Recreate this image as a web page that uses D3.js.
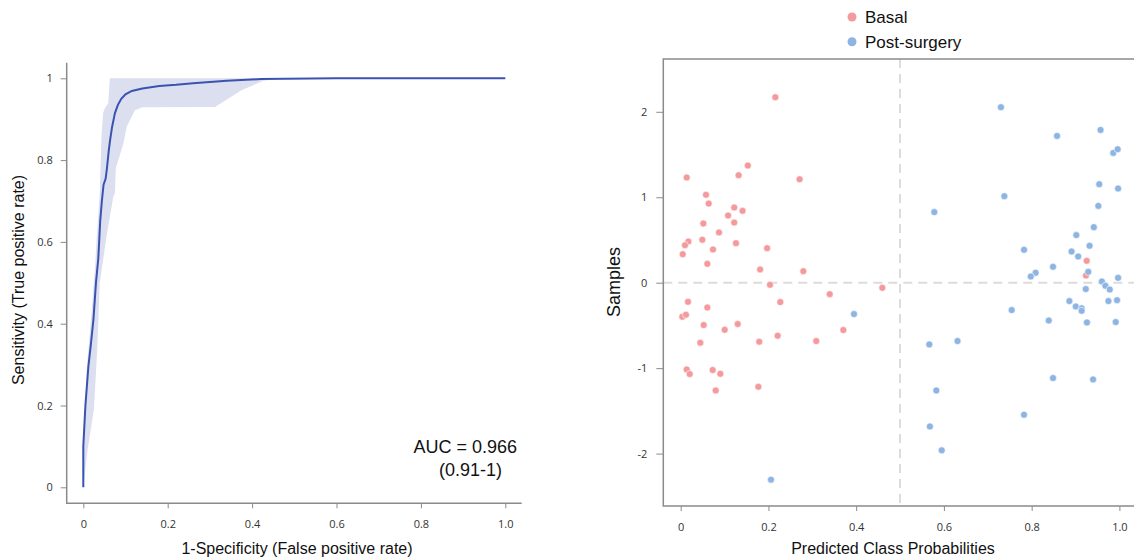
<!DOCTYPE html>
<html>
<head>
<meta charset="utf-8">
<script src="https://cdn.jsdelivr.net/npm/d3@7"></script>
<style>
  body { margin: 0; background: #fff; }
  svg { display: block; }
  .tick text { font-family: "Open Sans", sans-serif; font-size: 11px; fill: #333; }
  .title { font-family: "Liberation Sans", Arial, sans-serif; fill: #111; }
</style>
</head>
<body>
<svg id="chart" width="1134" height="560"></svg>
<script>
// ROC curve
var rocFpr = [0, 0, 0.005, 0.012, 0.018, 0.024, 0.03, 0.0356, 0.04, 0.044, 0.048, 0.053, 0.056, 0.06, 0.063, 0.068, 0.075, 0.082, 0.09, 0.1, 0.115, 0.14, 0.18, 0.22, 0.26, 0.3, 0.34, 0.42, 0.6, 1];
var rocTpr = [0, 0.1, 0.2, 0.295, 0.35, 0.41, 0.5, 0.56, 0.65, 0.7, 0.74, 0.755, 0.78, 0.82, 0.845, 0.88, 0.915, 0.935, 0.95, 0.961, 0.969, 0.975, 0.981, 0.984, 0.988, 0.991, 0.994, 0.998, 1, 1];

// confidence band: upper edge (left side) and lower edge (right side)
var bandHiFpr = [0, 0, 0.008, 0.02, 0.028, 0.032, 0.039, 0.043, 0.047, 0.051, 0.059, 0.063, 1];
var bandHiTpr = [0, 0.09, 0.286, 0.432, 0.54, 0.613, 0.72, 0.858, 0.915, 0.927, 0.939, 1, 1];
var bandLoFpr = [0, 0.01, 0.025, 0.033, 0.039, 0.055, 0.071, 0.075, 0.077, 0.083, 0.095, 0.103, 0.1225, 0.14, 0.312, 0.375, 0.427, 0.47, 1];
var bandLoTpr = [0, 0.09, 0.19, 0.336, 0.5, 0.613, 0.71, 0.72, 0.78, 0.8, 0.84, 0.882, 0.922, 0.929, 0.93, 0.971, 0.994, 1, 1];

var rocTicksX = [0, 0.2, 0.4, 0.6, 0.8, 1.0];
var rocTicksY = [0, 0.2, 0.4, 0.6, 0.8, 1];
var aucLines = ["AUC = 0.966", "(0.91-1)"];

// class probability scatter
var groups = ["Basal", "Post-surgery"];
var basalProb = [0.2157, 0.0137, 0.153, 0.132, 0.271, 0.0577, 0.0638, 0.122, 0.141, 0.108, 0.122, 0.0516, 0.0873, 0.0174, 0.0098, 0.0493, 0.126, 0.0046, 0.0736, 0.197, 0.0607, 0.181, 0.2795, 0.2036, 0.3397, 0.4596, 0.0166, 0.227, 0.0607,
  0.0037, 0.012, 0.0524, 0.1003, 0.130, 0.0447, 0.179, 0.221, 0.309, 0.3707, 0.0137, 0.0205, 0.0729, 0.0903, 0.0798, 0.177, 0.9255, 0.9238];
var basalSample = [2.171, 1.231, 1.371, 1.258, 1.211, 1.028, 0.926, 0.880, 0.841, 0.786, 0.704, 0.693, 0.588, 0.482, 0.439, 0.502, 0.463, 0.334, 0.389, 0.404, 0.221, 0.155, 0.135, -0.025, -0.134, -0.06, -0.224, -0.227, -0.29,
  -0.399, -0.375, -0.496, -0.551, -0.484, -0.703, -0.691, -0.621, -0.683, -0.554, -1.015, -1.069, -1.022, -1.066, -1.261, -1.218, 0.256, 0.084];
var postProb = [0.730, 0.8578, 0.957, 0.986, 0.996, 0.954, 0.997, 0.7377, 0.952, 0.578, 0.9417, 0.9018, 0.932, 0.7826, 0.891, 0.906, 0.8487, 0.929, 0.809, 0.798, 0.997, 0.960, 0.968, 0.978, 0.9234, 0.886, 0.975, 0.9946,
  0.9006, 0.914, 0.914, 0.7545, 0.839, 0.926, 0.9916, 0.5667, 0.631, 0.8487, 0.940, 0.5827, 0.7826, 0.568, 0.595, 0.395, 0.2058];
var postSample = [2.054, 1.718, 1.788, 1.519, 1.562, 1.153, 1.102, 1.013, 0.899, 0.826, 0.650, 0.557, 0.432, 0.385, 0.365, 0.307, 0.186, 0.127, 0.116, 0.073, 0.057, 0.014, -0.036, -0.08, -0.075, -0.215, -0.215, -0.204,
  -0.278, -0.30, -0.329, -0.32, -0.442, -0.465, -0.461, -0.722, -0.683, -1.116, -1.132, -1.261, -1.545, -1.682, -1.962, -0.367, -2.305];

var probTicks = [0, 0.2, 0.4, 0.6, 0.8, 1.0];
var sampleTicks = [-2, -1, 0, 1, 2];

var svg = d3.select('#chart');
var axisColor = '#8a8a8a';

/*
 * Left panel: ROC curve
 */
var rx = d3.scaleLinear().domain([0, 1]).range([83.3, 505.3]);
var ry = d3.scaleLinear().domain([0, 1]).range([487.3, 78.3]);
var roc = svg.append('g');

// band polygon: upper edge forward, lower edge back
var bandPts = bandHiFpr.map((f, i) => [f, bandHiTpr[i]])
  .concat(bandLoFpr.map((f, i) => [f, bandLoTpr[i]]).reverse());
roc.append('path')
  .attr('d', d3.line().x(d => rx(d[0])).y(d => ry(d[1]))(bandPts) + 'Z')
  .attr('fill', '#dcdff0');

roc.append('path')
  .datum(rocFpr.map((f, i) => [f, rocTpr[i]]))
  .attr('d', d3.line().x(d => rx(d[0])).y(d => ry(d[1])))
  .attr('fill', 'none')
  .attr('stroke', '#3a53b0')
  .attr('stroke-width', 2);

// axes
var rxAxis = roc.append('g')
  .attr('transform', 'translate(0,503.3)')
  .call(d3.axisBottom(rx).tickValues(rocTicksX).tickFormat(d => d === 0 ? '0' : d.toFixed(1)).tickSize(5).tickPadding(12));
rxAxis.select('.domain').remove();
var ryAxis = roc.append('g')
  .attr('transform', 'translate(66.7,0)')
  .call(d3.axisLeft(ry).tickValues(rocTicksY).tickFormat(d => d === 0 || d === 1 ? String(d) : d.toFixed(1)).tickSize(6).tickPadding(8));
ryAxis.select('.domain').remove();
roc.selectAll('.tick line').attr('stroke', axisColor);
roc.append('path')
  .attr('d', 'M66.7,62.7V503.3H521.7')
  .attr('fill', 'none').attr('stroke', axisColor).attr('stroke-width', 1.5);

roc.append('text').attr('class', 'title')
  .attr('x', 297).attr('y', 554).attr('text-anchor', 'middle').attr('font-size', 16)
  .text('1-Specificity (False positive rate)');
roc.append('text').attr('class', 'title')
  .attr('transform', 'translate(24,280) rotate(-90)').attr('text-anchor', 'middle').attr('font-size', 16)
  .text('Sensitivity (True positive rate)');
roc.append('text').attr('class', 'title')
  .attr('x', 517).attr('y', 453).attr('text-anchor', 'end').attr('font-size', 18)
  .text(aucLines[0]);
roc.append('text').attr('class', 'title')
  .attr('x', 502).attr('y', 476).attr('text-anchor', 'end').attr('font-size', 18)
  .text(aucLines[1]);

/*
 * Right panel: predicted class probabilities
 */
var px = d3.scaleLinear().domain([0, 1]).range([680.7, 1119.4]);
var py = d3.scaleLinear().domain([-2, 2]).range([453.6, 111.8]);
var color = d3.scaleOrdinal().domain(groups).range(['#f49a9c', '#8db4e2']);
var sc = svg.append('g');

var boxL = 663.3, boxT = 59, boxB = 506;

sc.append('line')
  .attr('x1', px(0.5)).attr('x2', px(0.5)).attr('y1', boxT).attr('y2', boxB)
  .attr('stroke', '#dcdcdc').attr('stroke-width', 2).attr('stroke-dasharray', '9,6');
sc.append('line')
  .attr('x1', boxL).attr('x2', 1134).attr('y1', py(0)).attr('y2', py(0))
  .attr('stroke', '#dcdcdc').attr('stroke-width', 2).attr('stroke-dasharray', '9,6');

var pts = basalProb.map((p, i) => ({p: p, s: basalSample[i], g: groups[0]}))
  .concat(postProb.map((p, i) => ({p: p, s: postSample[i], g: groups[1]})));
sc.selectAll('circle.pt')
  .data(pts).enter().append('circle')
  .attr('class', 'pt')
  .attr('cx', d => px(d.p))
  .attr('cy', d => py(d.s))
  .attr('r', 3.5)
  .attr('fill', d => color(d.g))
  .attr('stroke', '#fff')
  .attr('stroke-width', 0.6);

var pxAxis = sc.append('g')
  .attr('transform', 'translate(0,' + boxB + ')')
  .call(d3.axisBottom(px).tickValues(probTicks).tickFormat(d => d === 0 ? '0' : d.toFixed(1)).tickSize(5).tickPadding(12));
pxAxis.select('.domain').remove();
var pyAxis = sc.append('g')
  .attr('transform', 'translate(' + boxL + ',0)')
  .call(d3.axisLeft(py).tickValues(sampleTicks).tickFormat(d => String(d)).tickSize(7).tickPadding(9));
pyAxis.select('.domain').remove();
sc.selectAll('.tick line').attr('stroke', axisColor);

sc.append('path')
  .attr('d', 'M1140,' + boxT + 'H' + boxL + 'V' + boxB + 'H1140')
  .attr('fill', 'none').attr('stroke', axisColor).attr('stroke-width', 1.5);

sc.append('text').attr('class', 'title')
  .attr('x', 893).attr('y', 554).attr('text-anchor', 'middle').attr('font-size', 16)
  .text('Predicted Class Probabilities');
sc.append('text').attr('class', 'title')
  .attr('transform', 'translate(620,282) rotate(-90)').attr('text-anchor', 'middle').attr('font-size', 18)
  .text('Samples');

// legend
var legend = sc.selectAll('g.leg').data(groups).enter().append('g')
  .attr('class', 'leg')
  .attr('transform', (d, i) => 'translate(852,' + (17 + i * 24.7) + ')');
legend.append('circle').attr('r', 4.5).attr('fill', d => color(d));
legend.append('text').attr('class', 'title')
  .attr('x', 13).attr('dy', '0.35em').attr('font-size', 17)
  .text(d => d);
</script>
</body>
</html>
